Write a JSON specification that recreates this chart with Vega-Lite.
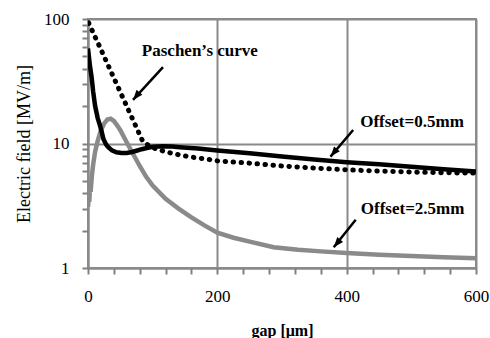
{
  "$schema": "https://vega.github.io/schema/vega-lite/v6.json",
  "width": 388,
  "height": 249,
  "autosize": "none",
  "padding": {"left": 88, "top": 19, "right": 14, "bottom": 70},
  "background": "white",
  "config": {
    "view": {"stroke": "#8a8a8a", "strokeWidth": 2},
    "font": "Liberation Serif",
    "axis": {"ticks": true, "tickColor": "#808080", "tickSize": 6, "tickWidth": 2, "tickOpacity": 1, "domainColor": "#8a8a8a", "domainWidth": 2}
  },
  "resolve": {"axis": {"x": "independent", "y": "independent"}},
  "datasets": {
    "offset05": [
      {"gap": 0, "E": 58}, {"gap": 3, "E": 42}, {"gap": 5.6, "E": 34}, {"gap": 8, "E": 26},
      {"gap": 11, "E": 20}, {"gap": 15, "E": 16}, {"gap": 18.5, "E": 14}, {"gap": 21, "E": 12.5},
      {"gap": 24, "E": 10.8}, {"gap": 28, "E": 9.8}, {"gap": 31, "E": 9.4}, {"gap": 37, "E": 8.8},
      {"gap": 44, "E": 8.5}, {"gap": 52, "E": 8.4}, {"gap": 60, "E": 8.4}, {"gap": 68, "E": 8.55},
      {"gap": 75, "E": 8.75}, {"gap": 83, "E": 9.0}, {"gap": 91, "E": 9.2}, {"gap": 100, "E": 9.4},
      {"gap": 116, "E": 9.5}, {"gap": 130, "E": 9.45}, {"gap": 142, "E": 9.35}, {"gap": 170, "E": 9.1},
      {"gap": 200, "E": 8.8}, {"gap": 250, "E": 8.35}, {"gap": 300, "E": 7.85}, {"gap": 350, "E": 7.45},
      {"gap": 400, "E": 7.08}, {"gap": 450, "E": 6.8}, {"gap": 500, "E": 6.5}, {"gap": 550, "E": 6.2},
      {"gap": 600, "E": 5.95}
    ],
    "offset25": [
      {"gap": 0, "E": 3.1}, {"gap": 1, "E": 3.6}, {"gap": 2, "E": 3.4}, {"gap": 3, "E": 4.3},
      {"gap": 4, "E": 4.1}, {"gap": 6, "E": 5.5}, {"gap": 8, "E": 6.8}, {"gap": 11, "E": 8.6},
      {"gap": 15, "E": 10.5}, {"gap": 20, "E": 12.8}, {"gap": 25, "E": 14.5}, {"gap": 30, "E": 15.6},
      {"gap": 35, "E": 15.8}, {"gap": 40, "E": 15.2}, {"gap": 45, "E": 14.0}, {"gap": 50, "E": 12.8},
      {"gap": 60, "E": 10.2}, {"gap": 70, "E": 8.2}, {"gap": 80, "E": 6.6}, {"gap": 90, "E": 5.4},
      {"gap": 100, "E": 4.6}, {"gap": 120, "E": 3.6}, {"gap": 140, "E": 3.0}, {"gap": 160, "E": 2.55},
      {"gap": 180, "E": 2.2}, {"gap": 200, "E": 1.92}, {"gap": 225, "E": 1.75}, {"gap": 250, "E": 1.63},
      {"gap": 287, "E": 1.47}, {"gap": 325, "E": 1.4}, {"gap": 360, "E": 1.36}, {"gap": 400, "E": 1.32},
      {"gap": 450, "E": 1.28}, {"gap": 500, "E": 1.25}, {"gap": 550, "E": 1.22}, {"gap": 600, "E": 1.2}
    ],
    "paschen": [
      {"gap": 1, "E": 93}, {"gap": 20, "E": 57}, {"gap": 40, "E": 33.6}, {"gap": 60, "E": 19.9},
      {"gap": 85, "E": 10.3}, {"gap": 95, "E": 9.6}, {"gap": 106, "E": 9.0}, {"gap": 131, "E": 8.3},
      {"gap": 158, "E": 7.8}, {"gap": 183, "E": 7.5}, {"gap": 200, "E": 7.25}, {"gap": 250, "E": 6.95},
      {"gap": 300, "E": 6.6}, {"gap": 350, "E": 6.35}, {"gap": 400, "E": 6.15}, {"gap": 450, "E": 6.0},
      {"gap": 500, "E": 5.9}, {"gap": 550, "E": 5.82}, {"gap": 600, "E": 5.78}
    ],
    "labels": [
      {"gap": 173, "E": 55, "label": "Paschen’s curve"},
      {"gap": 501, "E": 14.9, "label": "Offset=0.5mm"},
      {"gap": 502, "E": 2.99, "label": "Offset=2.5mm"}
    ],
    "arrows": [
      {"gap": 116, "E": 41.1, "gap2": 69.6, "E2": 22.4},
      {"gap": 410, "E": 12.85, "gap2": 375, "E2": 7.85},
      {"gap": 414, "E": 2.44, "gap2": 380, "E2": 1.47}
    ]
  },
  "layer": [
    {
      "data": {"name": "paschen"},
      "mark": {"type": "line", "color": "black", "strokeWidth": 5, "strokeDash": [0.5, 7.5], "strokeCap": "round", "clip": true},
      "encoding": {
        "x": {
          "field": "gap", "type": "quantitative",
          "scale": {"domain": [0, 600], "nice": false, "zero": false},
          "axis": {
            "orient": "bottom",
            "title": "gap [μm]",
            "values": [0, 200, 400, 600],
            "format": "d",
            "grid": true,
            "ticks": false,
            "gridColor": "#8a8a8a",
            "gridWidth": 2,
            "labelFont": "Liberation Serif",
            "labelFontSize": 17,
            "labelColor": "black",
            "labelPadding": 20,
            "labelFlush": false,
            "labelOverlap": false,
            "titleFont": "Liberation Serif",
            "titleFontSize": 16,
            "titleFontWeight": "bold",
            "titleColor": "black",
            "titlePadding": 18
          }
        },
        "y": {
          "field": "E", "type": "quantitative",
          "scale": {"type": "log", "domain": [1, 100], "nice": false},
          "axis": {
            "orient": "left",
            "title": "Electric field [MV/m]",
            "values": [1, 10, 100],
            "format": "d",
            "grid": true,
            "ticks": false,
            "gridColor": "#8a8a8a",
            "gridWidth": 2,
            "labelFont": "Liberation Serif",
            "labelFontSize": 17,
            "labelColor": "black",
            "labelPadding": 19,
            "labelFlush": false,
            "labelOverlap": false,
            "titleFont": "Liberation Serif",
            "titleFontSize": 18,
            "titleFontWeight": "normal",
            "titleColor": "black",
            "titlePadding": 10
          }
        }
      }
    },
    {
      "data": {"name": "offset25"},
      "mark": {"type": "line", "color": "#8a8a8a", "strokeWidth": 4.5, "clip": true},
      "encoding": {
        "x": {
          "field": "gap", "type": "quantitative",
          "axis": {
            "orient": "bottom",
            "title": null,
            "values": [0, 40, 80, 120, 160, 200, 240, 280, 320, 360, 400, 440, 480, 520, 560, 600],
            "labels": false,
            "grid": false,
            "domain": false,
            "ticks": true,
            "tickColor": "#808080",
            "tickSize": 6,
            "tickWidth": 2
          }
        },
        "y": {
          "field": "E", "type": "quantitative",
          "axis": {
            "orient": "left",
            "title": null,
            "values": [1, 2, 3, 4, 5, 6, 7, 8, 9, 10, 20, 30, 40, 50, 60, 70, 80, 90, 100],
            "labels": false,
            "grid": false,
            "domain": false,
            "ticks": true,
            "tickColor": "#808080",
            "tickSize": 6,
            "tickWidth": 2
          }
        }
      }
    },
    {
      "data": {"name": "offset05"},
      "mark": {"type": "line", "color": "black", "strokeWidth": 4.5, "clip": true},
      "encoding": {
        "x": {"field": "gap", "type": "quantitative", "axis": null},
        "y": {"field": "E", "type": "quantitative", "axis": null}
      }
    },
    {
      "data": {"name": "arrows"},
      "mark": {"type": "rule", "color": "black", "strokeWidth": 2.5},
      "encoding": {
        "x": {"field": "gap", "type": "quantitative", "axis": null},
        "y": {"field": "E", "type": "quantitative", "axis": null},
        "x2": {"field": "gap2"},
        "y2": {"field": "E2"}
      }
    },
    {
      "data": {"name": "arrows"},
      "mark": {"type": "point", "filled": true, "color": "black", "opacity": 1, "shape": "M0,0 L-0.75,2 L0.75,2 Z", "size": 100, "angle": 220},
      "encoding": {
        "x": {"field": "gap2", "type": "quantitative", "axis": null},
        "y": {"field": "E2", "type": "quantitative", "axis": null}
      }
    },
    {
      "data": {"name": "labels"},
      "mark": {"type": "text", "font": "Liberation Serif", "fontSize": 17, "fontWeight": "bold", "color": "black", "align": "center", "baseline": "middle"},
      "encoding": {
        "x": {"field": "gap", "type": "quantitative", "axis": null},
        "y": {"field": "E", "type": "quantitative", "axis": null},
        "text": {"field": "label"}
      }
    }
  ]
}
